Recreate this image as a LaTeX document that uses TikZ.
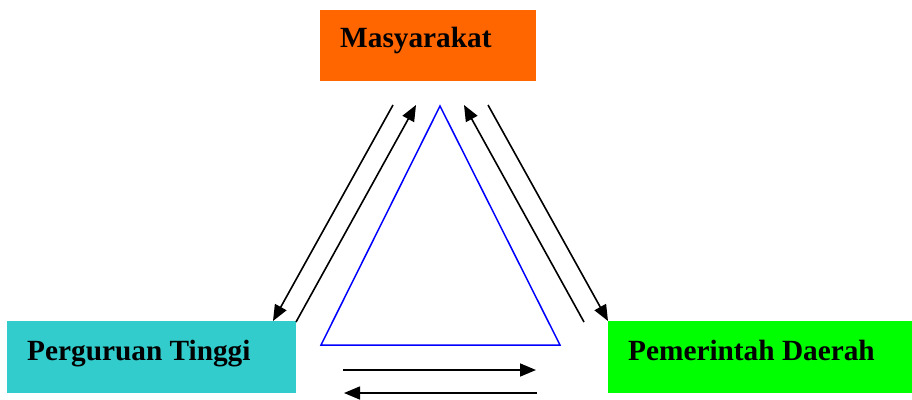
\documentclass[tikz,border=0pt]{standalone}
\usepackage{fontspec}
\setmainfont{Liberation Serif}
\usetikzlibrary{arrows.meta}
\definecolor{boxorange}{HTML}{FF6600}
\definecolor{boxcyan}{HTML}{33CCCC}
\definecolor{boxgreen}{HTML}{00FF00}
\definecolor{triblue}{HTML}{0000FF}
\begin{document}
\begin{tikzpicture}[x=1pt,y=-1pt,
  panel/.style={draw=none,inner sep=0pt,anchor=north west},
  caption/.style={anchor=base west,inner sep=0pt,font=\fontsize{29.3}{31}\selectfont\bfseries},
  flow/.style={line width=1.6pt,-{Triangle[length=16pt,width=13pt]}}]
\useasboundingbox (0,0) rectangle (912,399);

% coloured boxes
\node[panel,fill=boxorange,minimum width=216pt,minimum height=71pt] (mbox) at (320,10) {};
\node[panel,fill=boxcyan,minimum width=289pt,minimum height=72pt] (pbox) at (7,321) {};
\node[panel,fill=boxgreen,minimum width=304pt,minimum height=72pt] (gbox) at (608,321) {};

\node[caption] (mtxt) at (340,47) {Masyarakat};
\node[caption] (ptxt) at (27,360) {Perguruan Tinggi};
\node[caption] (gtxt) at (628,360) {Pemerintah Daerah};

% central triangle
\coordinate (ta) at (440,106);
\coordinate (tl) at (321,345);
\coordinate (tr) at (560,345);
\draw[triblue,line width=1.5pt,line join=miter] (ta) -- (tl) -- (tr) -- cycle;

% arrow end points
\coordinate (l1s) at (393,105); \coordinate (l1e) at (273,321);
\coordinate (l2s) at (296,322); \coordinate (l2e) at (416,105);
\coordinate (r1s) at (584,322); \coordinate (r1e) at (464,105);
\coordinate (r2s) at (488,105); \coordinate (r2e) at (608,321);
\coordinate (b1s) at (343,370); \coordinate (b1e) at (536,370);
\coordinate (b2s) at (537,393); \coordinate (b2e) at (344,393);

\draw[flow] (l1s) -- (l1e);
\draw[flow] (l2s) -- (l2e);
\draw[flow] (r1s) -- (r1e);
\draw[flow] (r2s) -- (r2e);
\draw[flow] (b1s) -- (b1e);
\draw[flow] (b2s) -- (b2e);
\end{tikzpicture}
\end{document}
